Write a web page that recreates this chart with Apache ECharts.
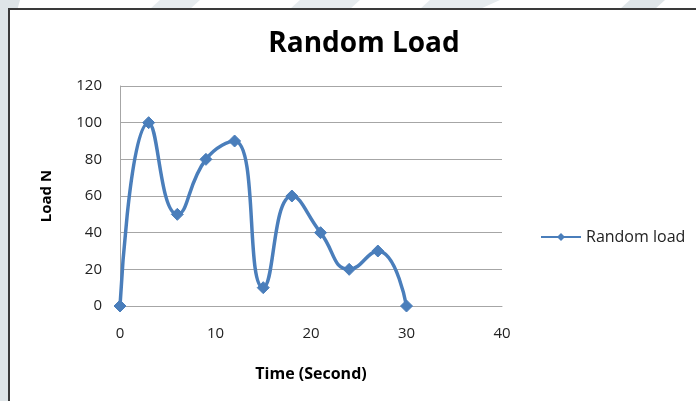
<!DOCTYPE html>
<html>
<head>
<meta charset="utf-8">
<script src="https://cdn.jsdelivr.net/npm/echarts@6/dist/echarts.min.js"></script>
<style>
  html, body { margin: 0; padding: 0; background: #ffffff; }
  #chart { width: 696px; height: 401px; }
</style>
</head>
<body>
<div id="chart"></div>
<script>
// Time in seconds and the applied load in newtons
const timeSeconds = [0, 3, 6, 9, 12, 15, 18, 21, 24, 27, 30];
const loadN = [0, 100, 50, 80, 90, 10, 60, 40, 20, 30, 0];
const seriesName = 'Random load';
const chartTitle = 'Random Load';
const xAxisName = 'Time (Second)';
const yAxisName = 'Load N';

const font = '"Open Sans", "Liberation Sans", sans-serif';
const blue = '#4a7ebb';

const chart = echarts.init(document.getElementById('chart'), null, { renderer: 'canvas' });

chart.setOption({
  backgroundColor: '#ffffff',
  animation: false,
  graphic: [
    // pale backdrop around the framed chart
    { type: 'rect', shape: { x: 0, y: 0, width: 9, height: 401 }, style: { fill: '#dfe5e8' }, z: 0 },
    { type: 'polygon', shape: { points: [[0, 0], [20, 0], [9, 40], [0, 40]] }, style: { fill: '#dfe5e8' }, z: 0 },
    { type: 'polygon', shape: { points: [[160, 0], [200, 0], [190, 9], [150, 9]] }, style: { fill: '#e6ebee' }, z: 0 },
    { type: 'polygon', shape: { points: [[300, 0], [360, 0], [350, 9], [290, 9]] }, style: { fill: '#e6ebee' }, z: 0 },
    { type: 'polygon', shape: { points: [[430, 0], [500, 0], [480, 9], [420, 9]] }, style: { fill: '#e6ebee' }, z: 0 },
    { type: 'polygon', shape: { points: [[630, 0], [665, 0], [655, 9], [620, 9]] }, style: { fill: '#dfe5e8' }, z: 0 },
    // chart frame
    { type: 'rect', shape: { x: 9, y: 9, width: 700, height: 400 },
      style: { fill: '#ffffff', stroke: '#3a3a3a', lineWidth: 2 }, z: 0 }
  ],
  title: {
    text: chartTitle,
    left: 359,
    top: 25,
    textAlign: 'center',
    textStyle: { fontFamily: font, fontSize: 28, fontWeight: 'bold', color: '#000000' }
  },
  legend: {
    data: [seriesName],
    left: 535,
    top: 224,
    itemWidth: 40,
    itemHeight: 10,
    itemGap: 4,
    textStyle: { fontFamily: font, fontSize: 16, color: '#222222' }
  },
  grid: { left: 120, right: 194, top: 86, bottom: 95, containLabel: false },
  xAxis: {
    type: 'value',
    min: 0,
    max: 40,
    interval: 10,
    name: xAxisName,
    nameLocation: 'middle',
    nameGap: 60,
    nameTextStyle: { fontFamily: font, fontSize: 16, fontWeight: 'bold', color: '#000000' },
    axisLine: { show: true, lineStyle: { color: '#a6a6a6', width: 1 } },
    axisTick: { show: false },
    splitLine: { show: false },
    axisLabel: { fontFamily: font, fontSize: 15, color: '#222222', margin: 20 }
  },
  yAxis: {
    type: 'value',
    min: 0,
    max: 120,
    interval: 20,
    name: yAxisName,
    nameLocation: 'middle',
    nameGap: 66,
    nameRotate: 90,
    nameTextStyle: { fontFamily: font, fontSize: 15, fontWeight: 'bold', color: '#000000' },
    axisLine: { show: true, lineStyle: { color: '#a6a6a6', width: 1 } },
    axisTick: { show: false },
    splitLine: { show: true, lineStyle: { color: '#a6a6a6', width: 1 } },
    axisLabel: { fontFamily: font, fontSize: 15, color: '#222222', margin: 18 }
  },
  series: [{
    name: seriesName,
    type: 'line',
    data: timeSeconds.map((t, i) => [t, loadN[i]]),
    smooth: 0.5,
    symbol: 'diamond',
    symbolSize: 12,
    showSymbol: true,
    lineStyle: { color: blue, width: 3.5 },
    itemStyle: { color: blue, borderColor: blue },
    z: 3
  }]
});
</script>
</body>
</html>
